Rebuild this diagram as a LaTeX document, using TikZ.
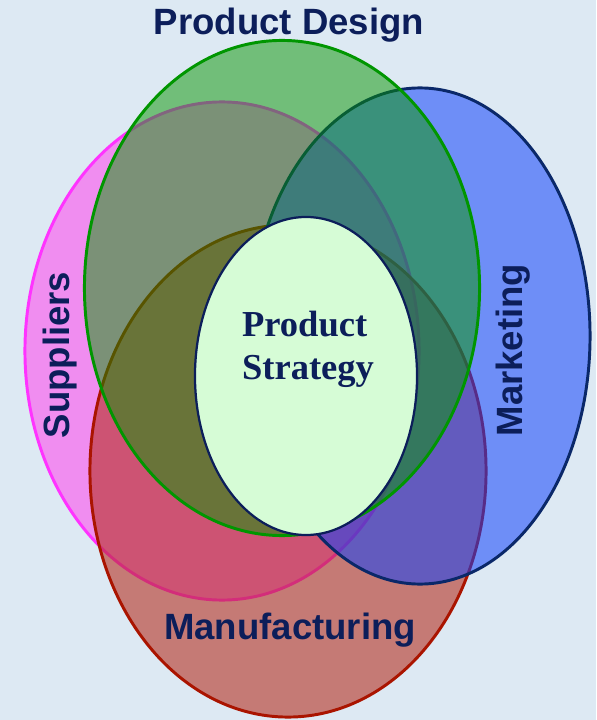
\documentclass[tikz,border=0pt]{standalone}
\usepackage{fontspec}
\setmainfont{Liberation Serif}
\setsansfont{Liberation Sans}
\usetikzlibrary{shapes.geometric,positioning}
\definecolor{bgblue}{RGB}{221,233,243}
\definecolor{navy}{RGB}{12,30,90}
\definecolor{supfill}{RGB}{253,81,238}
\definecolor{supline}{RGB}{255,51,255}
\definecolor{desfill}{RGB}{7,149,0}
\definecolor{desline}{RGB}{0,150,0}
\definecolor{mktfill}{RGB}{17,66,252}
\definecolor{mktline}{RGB}{10,40,105}
\definecolor{manfill}{RGB}{180,42,26}
\definecolor{manline}{RGB}{170,20,0}
\definecolor{stratfill}{RGB}{214,252,214}
\tikzstyle{area}=[ellipse,inner sep=0pt,line width=2.1pt,draw opacity=1]
\tikzstyle{title}=[font=\sffamily\bfseries\fontsize{26}{30}\selectfont,text=navy]

\begin{document}
\begin{tikzpicture}[x=0.025cm,y=-0.025cm]

\useasboundingbox[fill=bgblue] (0,0) rectangle (596,720);

% circles, back to front
\node[area,fill=supfill,fill opacity=0.6,draw=supline,minimum width=9.85cm,minimum height=12.45cm] (sup) at (222,351) {};
\node[area,fill=manfill,fill opacity=0.58,draw=manline,minimum width=9.9cm,minimum height=12.3cm] (man) at (288,471) {};
\node[area,fill=mktfill,fill opacity=0.54,draw=mktline,minimum width=8.5cm,minimum height=12.4cm] (mkt) at (420,336) {};
\node[area,fill=desfill,fill opacity=0.5,draw=desline,minimum width=9.875cm,minimum height=12.375cm] (des) at (282,288) {};
\node[ellipse,inner sep=0pt,fill=stratfill,draw=navy,line width=1.6pt,minimum width=5.55cm,minimum height=7.95cm] (strat) at (306,376) {};

% labels
\node[title] (deslabel) at (289,25) {Product Design};
\node[title] (manlabel) at (290,630) {Manufacturing};
\node[title,rotate=90] (suplabel) at (60,355) {Suppliers};
\node[title,rotate=90] (mktlabel) at (513,350) {Marketing};
\node[font=\bfseries\fontsize{26}{30.5}\selectfont,text=navy,align=left] (stratlabel) at (308,349) {Product\\Strategy};

\end{tikzpicture}
\end{document}
